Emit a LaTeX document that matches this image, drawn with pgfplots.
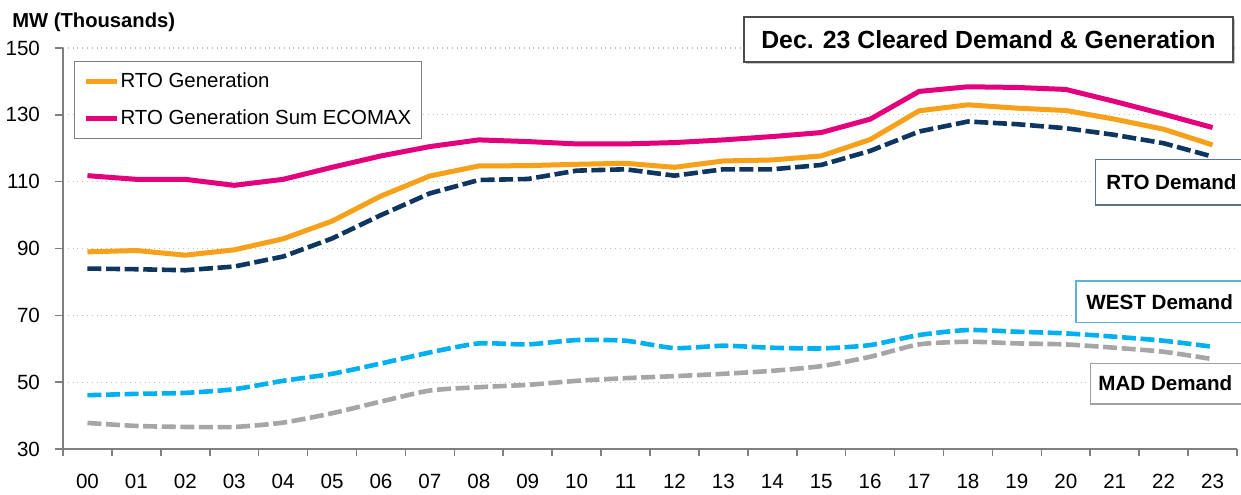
\documentclass[border=0pt]{standalone}
\usepackage{fontspec}
\setmainfont{Liberation Sans}
\usepackage{pgfplots}
\usepackage{pgfplotstable}
\pgfplotsset{compat=1.18}
\usetikzlibrary{shadows}

\definecolor{cOrange}{RGB}{247,160,26}
\definecolor{cPink}{RGB}{228,0,124}
\definecolor{cNavy}{RGB}{14,54,96}
\definecolor{cCyan}{RGB}{0,176,240}
\definecolor{cGray}{RGB}{166,166,166}
\definecolor{axisgray}{RGB}{128,128,128}
\definecolor{gridgray}{RGB}{190,190,190}
\definecolor{rtoBox}{RGB}{95,115,140}
\definecolor{westBox}{RGB}{90,180,215}
\definecolor{madBox}{RGB}{160,160,160}

\pgfplotstableread{
hr gen ecomax rto west mad
0 89.0 111.8 84.0 46.1 37.8
1 89.4 110.7 83.8 46.5 36.9
2 88.0 110.7 83.5 46.8 36.6
3 89.6 108.9 84.6 47.9 36.6
4 92.9 110.7 87.6 50.4 37.9
5 98.2 114.3 93.0 52.5 40.7
6 105.7 117.7 100.0 55.6 44.2
7 111.7 120.5 106.5 58.9 47.5
8 114.7 122.5 110.5 61.6 48.5
9 114.8 122.0 110.8 61.3 49.2
10 115.2 121.3 113.3 62.6 50.4
11 115.5 121.3 113.7 62.4 51.2
12 114.3 121.7 111.8 60.2 51.8
13 116.2 122.5 113.7 60.9 52.5
14 116.5 123.5 113.7 60.3 53.4
15 117.7 124.7 115.0 60.1 54.8
16 122.6 128.7 119.2 61.1 57.6
17 131.2 137.0 125.0 64.1 61.3
18 133.0 138.4 128.0 65.6 62.1
19 132.0 138.2 127.2 65.1 61.6
20 131.3 137.6 126.0 64.6 61.3
21 128.7 134.0 124.0 63.6 60.3
22 125.7 130.2 121.5 62.4 59.1
23 121.0 126.2 117.5 60.6 56.9
}\datatable

\begin{document}
\begin{tikzpicture}
\path[use as bounding box] (-31.5pt,-22.5pt) rectangle (589pt,224.5pt);
\begin{axis}[
  at={(0pt,0pt)}, anchor=south west,
  scale only axis, width=587pt, height=200.5pt,
  xmin=-0.5, xmax=23.5, ymin=30, ymax=150,
  ytick={30,50,...,150},
  xtick={0,...,23},
  xticklabels={00,01,02,03,04,05,06,07,08,09,10,11,12,13,14,15,16,17,18,19,20,21,22,23},
  minor xtick={-0.5,0.5,...,23.5},
  axis lines=left,
  axis line style={draw=axisgray, line width=0.8pt, -},
  tick align=outside,
  major tick length=4pt, minor tick length=3.5pt,
  tick style={draw=axisgray, line width=0.8pt},
  major x tick style={draw=none},
  ymajorgrids,
  major y grid style={draw=gridgray, dotted, line width=0.6pt},
  tick label style={font=\fontsize{10.3}{12}\selectfont},
  /pgf/number format/assume math mode=true,
  yticklabel style={xshift=-4pt},
  xticklabel style={yshift=-5pt},
  legend style={at={(0.0094,0.9676)}, anchor=north west,
    draw=axisgray, line width=0.6pt, fill=white,
    font=\fontsize{10.2}{12}\selectfont,
    inner xsep=4.5pt, inner ysep=3.5pt, row sep=5.5pt,
    nodes={inner xsep=0.5pt},
    cells={anchor=west}},
  legend image code/.code={\draw[#1, line width=2.5pt] (0pt,0pt) -- (15.5pt,0pt);},
]
\addplot[cGray, line width=2.3pt, dash pattern=on 7pt off 2.3pt, smooth, tension=0.4, forget plot] table[x=hr, y=mad] {\datatable};
\addplot[cCyan, line width=2.3pt, dash pattern=on 7pt off 2.3pt, smooth, tension=0.4, forget plot] table[x=hr, y=west] {\datatable};
\addplot[cNavy, line width=2.3pt, dash pattern=on 7pt off 2.3pt, forget plot] table[x=hr, y=rto] {\datatable};
\addplot[cOrange, line width=2.5pt] table[x=hr, y=gen] {\datatable};
\addlegendentry{RTO Generation}
\addplot[cPink, line width=2.5pt] table[x=hr, y=ecomax] {\datatable};
\addlegendentry{RTO Generation Sum ECOMAX}
\end{axis}
% y-axis unit label
\node[anchor=base west, inner sep=0pt, font=\bfseries\fontsize{10.1}{12}\selectfont] at (-25.5pt,211pt) {MW (Thousands)};
% title box
\node[draw=black!70, line width=0.6pt, fill=white, drop shadow={shadow xshift=1.2pt, shadow yshift=-1.2pt, opacity=0.45},
  minimum width=244.5pt, minimum height=22.5pt, inner sep=0pt,
  font=\bfseries\fontsize{12.4}{14}\selectfont] at (462.75pt,204.75pt) {Dec. 23 Cleared Demand \& Generation};
% series label boxes
\draw[rtoBox, line width=0.6pt, fill=white] (516.35pt,122pt) rectangle (595pt,144.85pt);
\node[anchor=west, inner sep=0pt, font=\bfseries\fontsize{10.3}{12}\selectfont] at (521.5pt,133.4pt) {RTO Demand};
\draw[westBox, line width=0.6pt, fill=white] (506.5pt,63.15pt) rectangle (595pt,84pt);
\node[anchor=west, inner sep=0pt, font=\bfseries\fontsize{10.3}{12}\selectfont] at (511.5pt,73.6pt) {WEST Demand};
\draw[madBox, line width=0.6pt, fill=white] (513.85pt,22.5pt) rectangle (595pt,42.85pt);
\node[anchor=west, inner sep=0pt, font=\bfseries\fontsize{10.3}{12}\selectfont] at (517.5pt,32.7pt) {MAD Demand};
\end{tikzpicture}
\end{document}
